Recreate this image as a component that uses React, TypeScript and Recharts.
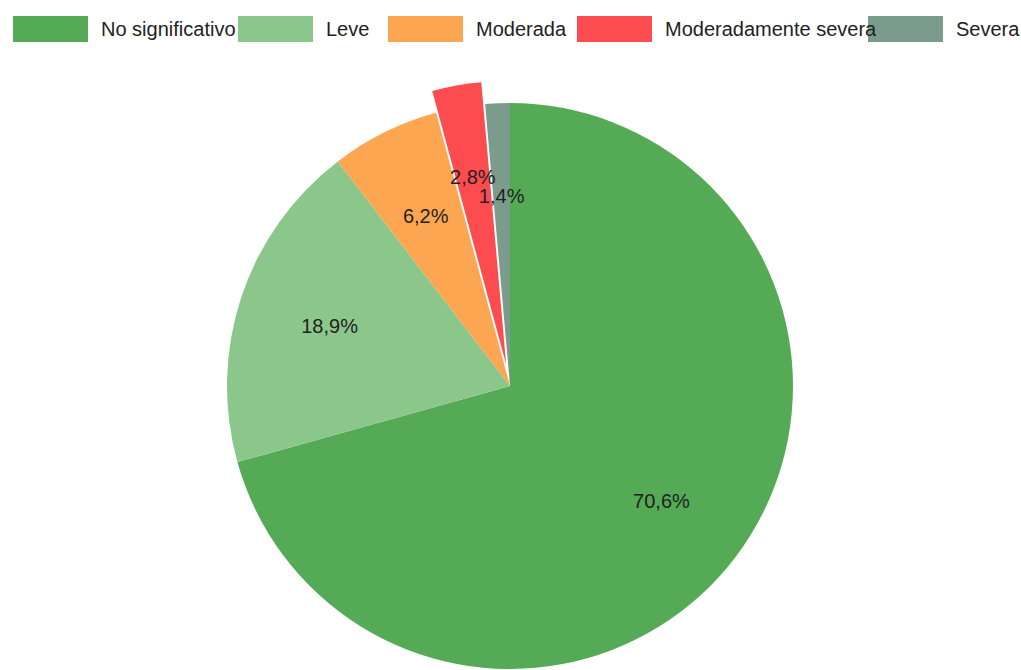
import React from 'react';
import { PieChart, Pie, Cell } from 'recharts';

const categories = ['No significativo', 'Leve', 'Moderada', 'Moderadamente severa', 'Severa'];
const values = [70.6, 18.9, 6.2, 2.8, 1.4];
const colors = ['#55ab55', '#8bc78b', '#fca652', '#fd4c50', '#7b9c8c'];
const explode = [0, 0, 0, 0.078, 0];

const data = categories.map((name, i) => ({ name, value: values[i] }));

const W = 1021;
const H = 670;
const CX = 510;
const CY = 386;
const R = 283;
const LABEL_R = 0.672;
const FONT = '"Liberation Sans", Arial, sans-serif';
const LEGEND_ITEM_WIDTHS = [225, 150, 189, 291, 150];
const RADIAN = Math.PI / 180;
const MARGIN = { top: 0, right: 0, bottom: 0, left: 0 };

const total = values.reduce((a, b) => a + b, 0);
const midAngles = values.map((v, i) => {
  const before = values.slice(0, i).reduce((a, b) => a + b, 0);
  return 90 - ((before + v / 2) / total) * 360;
});
const offsets = midAngles.map((a, i) => ({
  dx: explode[i] * R * Math.cos(a * RADIAN),
  dy: -explode[i] * R * Math.sin(a * RADIAN),
}));

const renderLabel = (props: any) => {
  const { cx, cy, midAngle, index } = props;
  const o = offsets[index];
  const x = cx + o.dx + LABEL_R * R * Math.cos(-midAngle * RADIAN);
  const y = cy + o.dy + LABEL_R * R * Math.sin(-midAngle * RADIAN);
  return (
    <text
      x={x}
      y={y}
      textAnchor="middle"
      dominantBaseline="central"
      fill="#222"
      fontSize={20}
      fontFamily={FONT}
    >
      {values[index].toFixed(1).replace('.', ',') + '%'}
    </text>
  );
};

const EXP_IDX = explode.findIndex((e) => e > 0);

export default function App() {
  return (
    <div style={{ position: 'absolute', left: 0, top: 0, width: W, height: H, background: '#fff' }}>
      <PieChart width={W} height={H} margin={MARGIN}>
        <Pie
          data={data}
          dataKey="value"
          cx={CX}
          cy={CY}
          outerRadius={R}
          startAngle={90}
          endAngle={-270}
          stroke="none"
          isAnimationActive={false}
          labelLine={false}
        >
          {data.map((d, i) => (
            <Cell key={d.name} fill={explode[i] > 0 ? 'transparent' : colors[i]} stroke="none" />
          ))}
        </Pie>
        <Pie
          data={data}
          dataKey="value"
          cx={CX + offsets[EXP_IDX].dx}
          cy={CY + offsets[EXP_IDX].dy}
          outerRadius={R}
          startAngle={90}
          endAngle={-270}
          stroke="none"
          isAnimationActive={false}
          labelLine={false}
        >
          {data.map((d, i) => (
            <Cell key={d.name} fill={explode[i] > 0 ? colors[i] : 'transparent'} stroke="none" />
          ))}
        </Pie>
        <Pie
          data={data}
          dataKey="value"
          cx={CX}
          cy={CY}
          outerRadius={R}
          startAngle={90}
          endAngle={-270}
          stroke="none"
          fill="transparent"
          isAnimationActive={false}
          labelLine={false}
          label={renderLabel}
        >
          {data.map((d) => (
            <Cell key={d.name} fill="transparent" stroke="none" />
          ))}
        </Pie>
      </PieChart>
      <div
        style={{
          position: 'absolute',
          left: 13,
          top: 16,
          display: 'flex',
          alignItems: 'center',
          fontFamily: FONT,
          fontSize: 20,
          color: '#222',
          whiteSpace: 'nowrap',
        }}
      >
        {categories.map((c, i) => (
          <div
            key={c}
            style={{ width: LEGEND_ITEM_WIDTHS[i], display: 'flex', alignItems: 'center', flexShrink: 0 }}
          >
            <div style={{ width: 75, height: 26, background: colors[i], flexShrink: 0 }} />
            <span style={{ marginLeft: 13, position: 'relative', zIndex: 1, overflow: 'visible' }}>{c}</span>
          </div>
        ))}
      </div>
    </div>
  );
}
